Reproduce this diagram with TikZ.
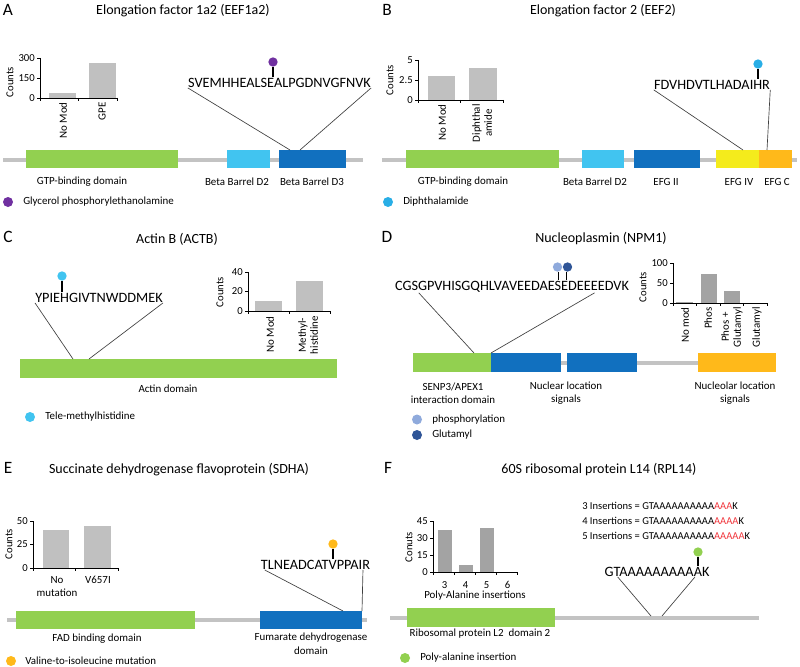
\documentclass[tikz,border=0pt]{standalone}
\usepackage{fontspec}
\setmainfont{Carlito}
\usetikzlibrary{fit}
\definecolor{cgreen}{HTML}{92D050}
\definecolor{clblue}{HTML}{41C4F0}
\definecolor{cdblue}{HTML}{1170BF}
\definecolor{cyellow}{HTML}{F4EB1C}
\definecolor{corange}{HTML}{FFB91A}
\definecolor{bbgray}{HTML}{C3C3C3}
\definecolor{barlight}{HTML}{C0C0C0}
\definecolor{bardark}{HTML}{A3A3A3}
\definecolor{cpurple}{HTML}{7030A0}
\definecolor{ccyan}{HTML}{29AEE6}
\definecolor{cphos}{HTML}{8FAADC}
\definecolor{cglu}{HTML}{2F5597}
\definecolor{cred}{HTML}{F0353B}
\tikzset{
  plabel/.style={font=\fontsize{13}{15}\selectfont, inner sep=0},
  ptitle/.style={font=\fontsize{10.5}{12}\selectfont, inner sep=0},
  seq/.style={font=\fontsize{10.7}{12}\selectfont, inner sep=0},
  lab/.style={font=\fontsize{8.2}{10}\selectfont, align=center, inner sep=0},
  inslab/.style={font=\fontsize{7.9}{9.5}\selectfont, inner sep=0, anchor=west},
  ticklab/.style={font=\fontsize{8}{9}\selectfont, inner sep=0},
  rlab/.style={font=\fontsize{8.2}{9}\selectfont, align=center, inner sep=0, rotate=90, anchor=east},
  conn/.style={draw=black!75, line width=0.5pt},
  stem/.style={draw=black, line width=0.9pt},
  backbone/.style={draw=bbgray, line width=3pt},
  dom/.style={inner sep=0, draw=none},
  lolli/.style={circle, inner sep=0, minimum size=7pt, draw=none},
  legdot/.style={circle, inner sep=0, minimum size=7.5pt, draw=none},
  axis/.style={draw=black, line width=0.6pt},
}
\begin{document}
\begin{tikzpicture}[x=0.75pt,y=-0.75pt]
\useasboundingbox (0,0) rectangle (800,667);

%%%%%%%%%%%%%%%% Panel A
\node[plabel] (LA) at (8,10) {A};
\node[ptitle] (TA) at (183,11) {Elongation factor 1a2 (EEF1a2)};
\fill[barlight] (49,98) rectangle (76,92.7);
\fill[barlight] (89,98) rectangle (116,63.3);
\draw[axis] (40,58) -- (40,98) -- (117,98);
\foreach \x in {40,78.5,117} \draw[axis] (\x,98) -- (\x,101);
\foreach \y/\t in {58/300,78/150,98/0} {
  \draw[axis] (37,\y) -- (40,\y);
  \node[ticklab, anchor=east] (tA\t) at (35,\y) {\t};
}
\node[ticklab, rotate=90] (cA) at (10,82) {Counts};
\node[rlab] (xA1) at (63,102) {No Mod};
\node[rlab] (xA2) at (102,102) {GPE};
\node[seq] (sA) at (279.5,83) {SVEMHHEALSEALPGDNVGFNVK};
\node[lolli, fill=cpurple] (pA) at (273,62) {};
\draw[stem] (pA.south) -- ([yshift=1pt]pA.south |- sA.north);
\draw[backbone] (3,159.5) -- (363,159.5);
\node[dom, fill=cgreen, fit={(26,150)(178,168)}] (gA) {};
\node[dom, fill=clblue, fit={(227,150)(270,168)}] (b2A) {};
\node[dom, fill=cdblue, fit={(279,150)(346,168)}] (b3A) {};
\coordinate (cA1) at (290,150);
\coordinate (cA2) at (300,150);
\draw[conn] (sA.south west) -- (cA1);
\draw[conn] (sA.south east) -- (cA2);
\node[lab] (lgA) at (82,182) {GTP-binding domain};
\node[lab] (lb2A) at (237,182) {Beta Barrel D2};
\node[lab] (lb3A) at (312,182) {Beta Barrel D3};
\node[legdot, fill=cpurple] (dA) at (8,202) {};
\node[lab, anchor=west] (tdA) at (23,202) {Glycerol phosphorylethanolamine};

%%%%%%%%%%%%%%%% Panel B
\node[plabel] (LB) at (387,10) {B};
\node[ptitle] (TB) at (603,11) {Elongation factor 2 (EEF2)};
\fill[barlight] (428,100) rectangle (455,76);
\fill[barlight] (469,100) rectangle (497,68);
\draw[axis] (418,60) -- (418,100) -- (503,100);
\foreach \x in {418,460.5,503} \draw[axis] (\x,100) -- (\x,103);
\foreach \y/\t/\n in {60/5/a,80/2.5/b,100/0/c} {
  \draw[axis] (415,\y) -- (418,\y);
  \node[ticklab, anchor=east] (tB\n) at (413,\y) {\t};
}
\node[ticklab, rotate=90] (cB) at (390,80) {Counts};
\node[rlab] (xB1) at (442,104) {No Mod};
\node[rlab] (xB2) at (482,104) {Diphthal\\amide};
\node[seq] (sB) at (712,85) {FDVHDVTLHADAIHR};
\node[lolli, fill=ccyan] (pB) at (758,64) {};
\draw[stem] (pB.south) -- ([yshift=1pt]pB.south |- sB.north);
\draw[backbone] (382,159.5) -- (797,159.5);
\node[dom, fill=cgreen, fit={(406,150)(559,168)}] (gB) {};
\node[dom, fill=clblue, fit={(582,150)(624,168)}] (b2B) {};
\node[dom, fill=cdblue, fit={(634,150)(700,168)}] (e2B) {};
\node[dom, fill=cyellow, fit={(716,150)(759,168)}] (e4B) {};
\node[dom, fill=corange, fit={(759,150)(792,168)}] (ecB) {};
\coordinate (cB1) at (743,150);
\coordinate (cB2) at (767,150);
\draw[conn] (sB.south west) -- (cB1);
\draw[conn] (sB.south east) -- (cB2);
\node[lab] (lgB) at (463,182) {GTP-binding domain};
\node[lab] (lb2B) at (595,182) {Beta Barrel D2};
\node[lab] (le2B) at (666,182) {EFG II};
\node[lab] (le4B) at (739,182) {EFG IV};
\node[lab] (lecB) at (777,182) {EFG C};
\node[legdot, fill=ccyan] (dB) at (388,202) {};
\node[lab, anchor=west] (tdB) at (403,202) {Diphthalamide};

%%%%%%%%%%%%%%%% Panel C
\node[plabel] (LC) at (8,237) {C};
\node[ptitle] (TC) at (177,239) {Actin B (ACTB)};
\fill[barlight] (255,311) rectangle (282,301);
\fill[barlight] (296,311) rectangle (323,280.5);
\draw[axis] (248,272) -- (248,311) -- (330,311);
\foreach \x in {248,289,330} \draw[axis] (\x,311) -- (\x,314);
\foreach \y/\t in {272/40,291.5/20,311/0} {
  \draw[axis] (245,\y) -- (248,\y);
  \node[ticklab, anchor=east] (tC\t) at (243,\y) {\t};
}
\node[ticklab, rotate=90] (cC) at (220,292) {Counts};
\node[rlab] (xC1) at (270,316) {No Mod};
\node[rlab] (xC2) at (308,316) {Methyl-\\histidine};
\node[seq] (sC) at (99,298) {YPIEHGIVTNWDDMEK};
\node[lolli, fill=clblue] (pC) at (62,276) {};
\draw[stem] (pC.south) -- ([yshift=1pt]pC.south |- sC.north);
\node[dom, fill=cgreen, fit={(20,359)(337,378)}] (gC) {};
\coordinate (cC1) at (73,359);
\coordinate (cC2) at (89,359);
\draw[conn] (sC.south west) -- (cC1);
\draw[conn] (sC.south east) -- (cC2);
\node[lab] (lgC) at (168,389) {Actin domain};
\node[legdot, fill=clblue] (dC) at (30,417) {};
\node[lab, anchor=west] (tdC) at (45,417) {Tele-methylhistidine};

%%%%%%%%%%%%%%%% Panel D
\node[plabel] (LD) at (387,237) {D};
\node[ptitle] (TD) at (601,239) {Nucleoplasmin (NPM1)};
\fill[bardark] (676,303) rectangle (693,301.8);
\fill[bardark] (701,303) rectangle (717,273.8);
\fill[bardark] (724,303) rectangle (740,291);
\draw[axis] (673,263) -- (673,303) -- (767,303);
\foreach \x in {673,696.5,720,743.5,767} \draw[axis] (\x,303) -- (\x,306);
\foreach \y/\t in {263/100,283/50,303/0} {
  \draw[axis] (670,\y) -- (673,\y);
  \node[ticklab, anchor=east] (tD\t) at (668,\y) {\t};
}
\node[ticklab, rotate=90] (cD) at (643,287) {Counts};
\node[rlab] (xD1) at (685,307) {No mod};
\node[rlab] (xD2) at (708,307) {Phos};
\node[rlab] (xD3) at (732,307) {Phos +\\Glutamyl};
\node[rlab] (xD4) at (757,307) {Glutamyl};
\node[seq] (sD) at (512,287) {CGSGPVHISGQHLVAVEEDAESEDEEEEDVK};
\node[lolli, fill=cphos] (pD1) at (557.5,267) {};
\node[lolli, fill=cglu] (pD2) at (567.5,267) {};
\draw[stem] ([xshift=1pt]pD1.south) -- ([xshift=1pt,yshift=1pt]pD1.south |- sD.north);
\draw[stem] ([xshift=-1pt]pD2.south) -- ([xshift=-1pt,yshift=1pt]pD2.south |- sD.north);
\draw[backbone] (413,362.5) -- (776,362.5);
\node[dom, fill=cgreen, fit={(413,353)(491,372)}] (gD) {};
\node[dom, fill=cdblue, fit={(491,353)(561,372)}] (n1D) {};
\node[dom, fill=cdblue, fit={(567,353)(637,372)}] (n2D) {};
\node[dom, fill=corange, fit={(698,353)(776,372)}] (oD) {};
\coordinate (cD1) at (474,353);
\coordinate (cD2) at (491,353);
\draw[conn] ([xshift=18pt]sD.south west) -- (cD1);
\draw[conn] ([xshift=-26pt]sD.south east) -- (cD2);
\node[lab] (lgD) at (453,393) {SENP3/APEX1\\interaction domain};
\node[lab] (lnD) at (566,393) {Nuclear location\\signals};
\node[lab] (loD) at (735,393) {Nucleolar location\\signals};
\node[legdot, fill=cphos] (dD1) at (417,419.5) {};
\node[lab, anchor=west] (tdD1) at (432,419.5) {phosphorylation};
\node[legdot, fill=cglu] (dD2) at (417,435) {};
\node[lab, anchor=west] (tdD2) at (432,435) {Glutamyl};

%%%%%%%%%%%%%%%% Panel E
\node[plabel] (LE) at (8,468) {E};
\node[ptitle] (TE) at (179,470) {Succinate dehydrogenase flavoprotein (SDHA)};
\fill[barlight] (43,568) rectangle (69,530.4);
\fill[barlight] (84,568) rectangle (111,525.7);
\draw[axis] (33,521) -- (33,568) -- (118,568);
\foreach \x in {33,75.5,118} \draw[axis] (\x,568) -- (\x,571);
\foreach \y/\t in {521/50,544.5/25,568/0} {
  \draw[axis] (30,\y) -- (33,\y);
  \node[ticklab, anchor=east] (tE\t) at (28,\y) {\t};
}
\node[ticklab, rotate=90] (cE) at (9,544) {Counts};
\node[lab, anchor=north] (xE1) at (57,576) {No\\mutation};
\node[lab, anchor=north] (xE2) at (98,576) {V657I};
\node[seq] (sE) at (315.5,565) {TLNEADCATVPPAIR};
\node[lolli, fill=corange] (pE) at (333,544) {};
\draw[stem] (pE.south) -- ([yshift=1pt]pE.south |- sE.north);
\draw[backbone] (7,620) -- (367,620);
\node[dom, fill=cgreen, fit={(16,611)(195,629)}] (gE) {};
\node[dom, fill=cdblue, fit={(260,611)(362,629)}] (fE) {};
\coordinate (cE1) at (343,611);
\coordinate (cE2) at (362,611);
\draw[conn] ([xshift=3pt]sE.south west) -- (cE1);
\draw[conn] ([xshift=-5.5pt]sE.south east) -- (cE2);
\node[lab] (lgE) at (97,639) {FAD binding domain};
\node[lab, anchor=north] (lfE) at (311,633) {Fumarate dehydrogenase\\domain};
\node[legdot, fill=corange] (dE) at (11,661) {};
\node[lab, anchor=west] (tdE) at (25,661) {Valine-to-isoleucine mutation};

%%%%%%%%%%%%%%%% Panel F
\node[plabel] (LF) at (388,468) {F};
\node[ptitle] (TF) at (599,470) {60S ribosomal protein L14 (RPL14)};
\fill[bardark] (438,572) rectangle (452,530);
\fill[bardark] (459,572) rectangle (473,565.2);
\fill[bardark] (480,572) rectangle (494,527.8);
\draw[axis] (433,521) -- (433,572) -- (517,572);
\foreach \x in {433,454,475,496,517} \draw[axis] (\x,572) -- (\x,575);
\foreach \y/\t in {521/45,538/30,555/15,572/0} {
  \draw[axis] (430,\y) -- (433,\y);
  \node[ticklab, anchor=east] (tF\t) at (428,\y) {\t};
}
\node[ticklab, rotate=90] (cF) at (409,547) {Conuts};
\foreach \x/\t in {444.5/3,465.5/4,486.5/5,507.5/6}
  \node[ticklab] (xF\t) at (\x,585) {\t};
\node[lab] (xFt) at (475,595.5) {Poly-Alanine insertions};
\node[inslab] (iF3) at (582,506) {3 Insertions = GTAAAAAAAAAA\textcolor{cred}{AAA}K};
\node[inslab] (iF4) at (582,521) {4 Insertions = GTAAAAAAAAAA\textcolor{cred}{AAAA}K};
\node[inslab] (iF5) at (582,536) {5 Insertions = GTAAAAAAAAAA\textcolor{cred}{AAAAA}K};
\node[seq] (sF) at (657,572) {GTAAAAAAAAAAK};
\node[lolli, fill=cgreen] (pF) at (698,552) {};
\draw[stem] (pF.south) -- ([yshift=1pt]pF.south |- sF.north);
\draw[backbone] (390,617.5) -- (759,617.5);
\node[dom, fill=cgreen, fit={(407,608)(555,627)}] (gF) {};
\coordinate (cF1) at (651,616);
\coordinate (cF2) at (662,616);
\draw[conn] ([xshift=10pt]sF.south west) -- (cF1);
\draw[conn] ([xshift=-11pt]sF.south east) -- (cF2);
\node[lab] (lgF) at (480,634) {Ribosomal protein L2\ \ domain 2};
\node[legdot, fill=cgreen] (dF) at (405,658) {};
\node[lab, anchor=west] (tdF) at (420,658) {Poly-alanine insertion};
\end{tikzpicture}
\end{document}
